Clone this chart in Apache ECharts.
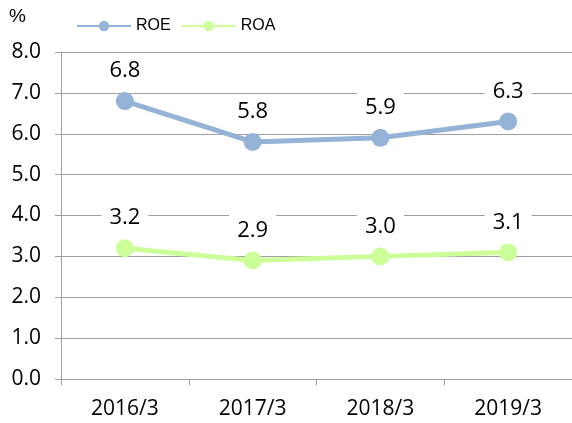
<!DOCTYPE html>
<html><head><meta charset="utf-8">
<script src="https://cdn.jsdelivr.net/npm/echarts@6/dist/echarts.min.js"></script>
<style>html,body{margin:0;padding:0;background:#fff}#c{width:572px;height:423px}</style>
</head><body><div id="c"></div>
<script>
const categories = ['2016/3','2017/3','2018/3','2019/3'];
const roe = [6.8, 5.8, 5.9, 6.3];
const roa = [3.2, 2.9, 3.0, 3.1];
const yTicks = [0,1,2,3,4,5,6,7,8];

const chart = echarts.init(document.getElementById('c'));
const font = 'Open Sans, Liberation Sans, sans-serif';
function lbl(){
  return {show:true, position:'top', distance:5, fontSize:22, lineHeight:24, color:'#000', fontFamily:font,
    backgroundColor:'#fff', padding:[4,8], formatter:p=>p.value.toFixed(1)};
}
chart.setOption({
  animation:false,
  graphic:[{type:'text', left:9, top:7, style:{text:'%', fontSize:19, fontFamily:'Liberation Sans, sans-serif', fill:'#000'}}],
  legend:{top:13, left:71, itemWidth:54, itemHeight:13, itemGap:10,
    textStyle:{fontSize:16, fontFamily:'Liberation Sans, sans-serif', color:'#000'},
    data:['ROE','ROA']},
  grid:{left:61, right:-3, top:52, bottom:44},
  xAxis:{type:'category', data:categories, boundaryGap:true,
    axisLine:{lineStyle:{color:'#a0a0a0', width:1}},
    axisTick:{show:true, length:6, lineStyle:{color:'#a0a0a0'}},
    axisLabel:{fontSize:21, color:'#000', fontFamily:font, margin:20}},
  yAxis:{type:'value', min:yTicks[0], max:yTicks[yTicks.length-1], interval:1,
    axisLine:{show:true, lineStyle:{color:'#a0a0a0'}},
    axisTick:{show:true, length:6, lineStyle:{color:'#a0a0a0'}},
    splitLine:{lineStyle:{color:'#a0a0a0'}},
    axisLabel:{fontSize:21, color:'#000', fontFamily:font, margin:20, formatter:v=>v.toFixed(1)}},
  series:[
    {name:'ROE', type:'line', data:roe, symbol:'circle', symbolSize:18,
     lineStyle:{color:'#95b3d7', width:5}, itemStyle:{color:'#95b3d7'}, label:lbl(), z:3},
    {name:'ROA', type:'line', data:roa, symbol:'circle', symbolSize:18,
     lineStyle:{color:'#ccff99', width:5}, itemStyle:{color:'#ccff99'}, label:lbl(), z:2}
  ]
});
</script></body></html>
